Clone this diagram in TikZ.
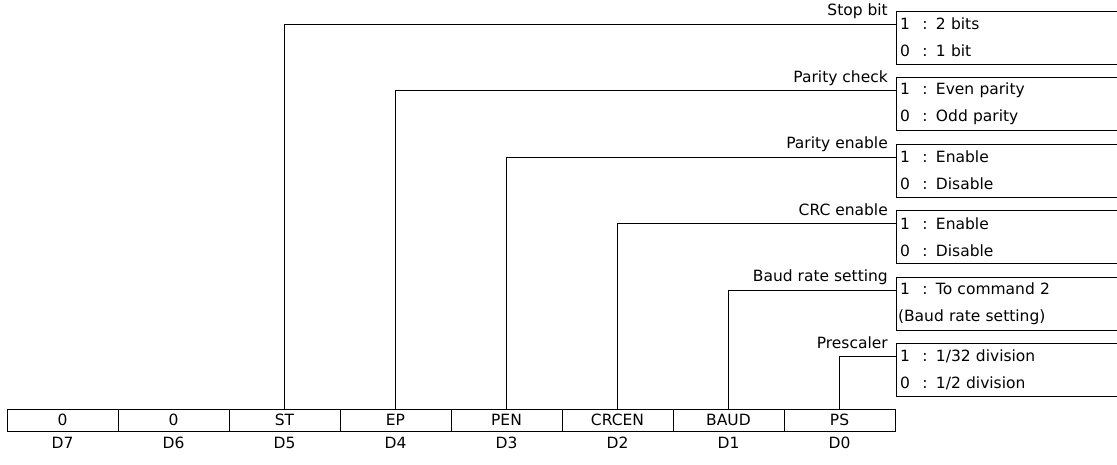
\documentclass[tikz,border=0pt]{standalone}
\usepackage{fontspec}
\setmainfont{DejaVu Sans}
\usetikzlibrary{positioning}

\newcommand{\optline}[2]{\makebox[18pt][c]{#1}\makebox[22pt][c]{:}#2}

\begin{document}
\begin{tikzpicture}[
				x=1pt, y=-1pt,
				every node/.style={font=\fontsize{15.5}{18}\selectfont},
				cell/.style={rectangle, draw, line width=0.8pt, minimum width=111pt,
					minimum height=22pt, inner sep=0pt, outer sep=0pt},
				bitlbl/.style={inner sep=1pt},
				optbox/.style={rectangle, anchor=north west, text width=221pt,
					minimum height=53pt, inner sep=0pt, outer sep=0pt, align=left,
					font=\fontsize{15.5}{27}\selectfont},
				fieldlbl/.style={anchor=base east, inner sep=0pt},
				wire/.style={line width=0.8pt}
				]
				\useasboundingbox (0,0) rectangle (1117,465);
				% register
				\node[cell] (r7) at (62.5,420) {0};
				\node[cell, right=0pt of r7] (r6) {0};
				\node[cell, right=0pt of r6] (st) {ST};
				\node[cell, right=0pt of st] (ep) {EP};
				\node[cell, right=0pt of ep] (pen) {PEN};
				\node[cell, right=0pt of pen] (crcen) {CRCEN};
				\node[cell, right=0pt of crcen] (baud) {BAUD};
				\node[cell, right=0pt of baud] (ps) {PS};
				% bit numbers
				\node[bitlbl, below=5pt of r7] (d7) {D7};
				\node[bitlbl, below=5pt of r6] (d6) {D6};
				\node[bitlbl, below=5pt of st] (d5) {D5};
				\node[bitlbl, below=5pt of ep] (d4) {D4};
				\node[bitlbl, below=5pt of pen] (d3) {D3};
				\node[bitlbl, below=5pt of crcen] (d2) {D2};
				\node[bitlbl, below=5pt of baud] (d1) {D1};
				\node[bitlbl, below=5pt of ps] (d0) {D0};
				% setting boxes
				\node[optbox] (stbox) at (896,11)
				{\optline{1}{2 bits}\\\optline{0}{1 bit}};
				\node[optbox] (epbox) at (896,77.5)
				{\optline{1}{Even parity}\\\optline{0}{Odd parity}};
				\node[optbox] (penbox) at (896,144)
				{\optline{1}{Enable}\\\optline{0}{Disable}};
				\node[optbox] (crcbox) at (896,210.5)
				{\optline{1}{Enable}\\\optline{0}{Disable}};
				\node[optbox] (baudbox) at (896,277)
				{\optline{1}{To command 2}\\\hspace*{2pt}(Baud rate setting)};
				\node[optbox] (psbox) at (896,343.5)
				{\optline{1}{1/32 division}\\\optline{0}{1/2 division}};
				\foreach \b in {stbox,epbox,penbox,crcbox,baudbox,psbox}
				\draw[wire] (\b.north east) -- (\b.north west) -- (\b.south west) -- (\b.south east);
				% connectors
				\coordinate (stin) at ([yshift=-13pt]stbox.north west);
				\coordinate (epin) at ([yshift=-13pt]epbox.north west);
				\coordinate (penin) at ([yshift=-13pt]penbox.north west);
				\coordinate (crcin) at ([yshift=-13pt]crcbox.north west);
				\coordinate (baudin) at ([yshift=-13pt]baudbox.north west);
				\coordinate (psin) at ([yshift=-13pt]psbox.north west);
				\draw[wire] (st.north) |- (stin);
				\draw[wire] (ep.north) |- (epin);
				\draw[wire] (pen.north) |- (penin);
				\draw[wire] (crcen.north) |- (crcin);
				\draw[wire] (baud.north) |- (baudin);
				\draw[wire] (ps.north) |- (psin);
				% field names
				\node[fieldlbl] (stlbl) at ([xshift=-8pt,yshift=8pt]stin) {Stop bit};
				\node[fieldlbl] (eplbl) at ([xshift=-8pt,yshift=8pt]epin) {Parity check};
				\node[fieldlbl] (penlbl) at ([xshift=-8pt,yshift=8pt]penin) {Parity enable};
				\node[fieldlbl] (crclbl) at ([xshift=-8pt,yshift=8pt]crcin) {CRC enable};
				\node[fieldlbl] (baudlbl) at ([xshift=-8pt,yshift=8pt]baudin) {Baud rate setting};
				\node[fieldlbl] (pslbl) at ([xshift=-8pt,yshift=8pt]psin) {Prescaler};
			\end{tikzpicture}
\end{document}
